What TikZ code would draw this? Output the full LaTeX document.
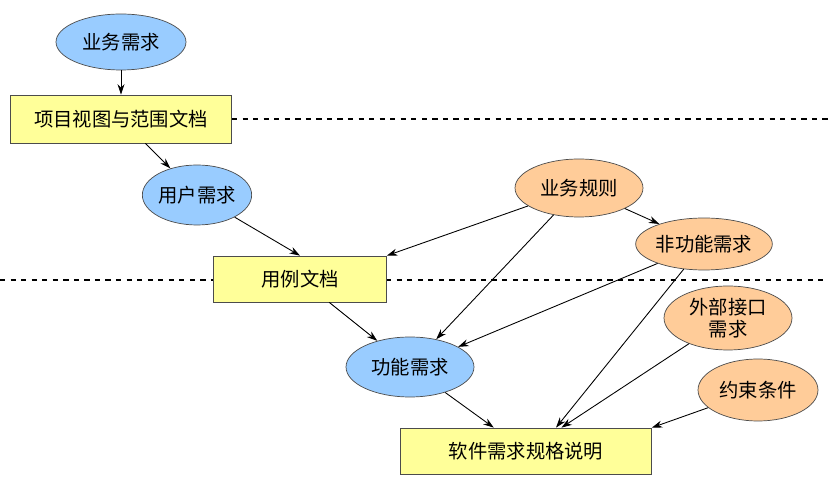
\documentclass[tikz,border=0pt]{standalone}
\usepackage{fontspec}
\newfontfamily\cjk{Noto Sans CJK SC}
\usetikzlibrary{shapes.geometric,arrows.meta}
\definecolor{bl}{HTML}{99CCFF}
\definecolor{or}{HTML}{FFCC99}
\definecolor{ye}{HTML}{FFFF99}
\begin{document}
\begin{tikzpicture}[x=0.02cm,y=-0.02cm,
 every node/.style={font=\cjk\fontsize{11}{12.5}\selectfont},
 el/.style={ellipse,draw=black!70,inner sep=0pt},
 bel/.style={el,fill=bl},
 oel/.style={el,fill=or},
 box/.style={draw=black!70,fill=ye,inner sep=0pt},
 ar/.style={-{Stealth[length=6pt,width=4pt]},black,line width=0.5pt}]
\useasboundingbox (0,0) rectangle (828,499);
\draw[dashed,line width=0.8pt] (232,119) -- (828,119);
\draw[dashed,line width=0.8pt] (0,280) -- (213,280);
\draw[dashed,line width=0.8pt] (386,280) -- (828,280);
\node[bel,minimum width=2.6cm,minimum height=1.12cm] (a) at (121,42) {业务需求};
\node[box,minimum width=4.42cm,minimum height=0.96cm] (b) at (121,119) {项目视图与范围文档};
\node[bel,minimum width=2.12cm,minimum height=1.2cm] (c) at (197,195) {用户需求};
\node[box,minimum width=3.46cm,minimum height=0.92cm] (d) at (300,279) {用例文档};
\node[oel,minimum width=2.56cm,minimum height=1.16cm] (e) at (579,188) {业务规则};
\node[oel,minimum width=2.56cm,minimum height=1.04cm] (f) at (704,244) {非功能需求};
\node[oel,minimum width=2.56cm,minimum height=1.28cm,align=center] (g) at (728,318) {外部接口\\需求};
\node[oel,minimum width=2.4cm,minimum height=1.24cm] (h) at (758,390) {约束条件};
\node[bel,minimum width=2.56cm,minimum height=1.2cm] (i) at (410,367) {功能需求};
\node[box,minimum width=5.02cm,minimum height=0.92cm] (j) at (526,451) {软件需求规格说明};
\coordinate (jn) at ([xshift=0.6cm]j.north);
\draw[ar] (a) -- (b);
\draw[ar] (b) -- (c);
\draw[ar] (c) -- (d.north);
\draw[ar] (e) -- (d.north east);
\draw[ar] (e) -- (f);
\draw[ar] (e) -- (i);
\draw[ar] (f) -- (i);
\draw[ar] (d) -- (i);
\draw[ar] (i) -- (j);
\draw[ar] (f) -- (jn);
\draw[ar] (g) -- (j);
\draw[ar] (h) -- (j.north east);
\end{tikzpicture}
\end{document}
